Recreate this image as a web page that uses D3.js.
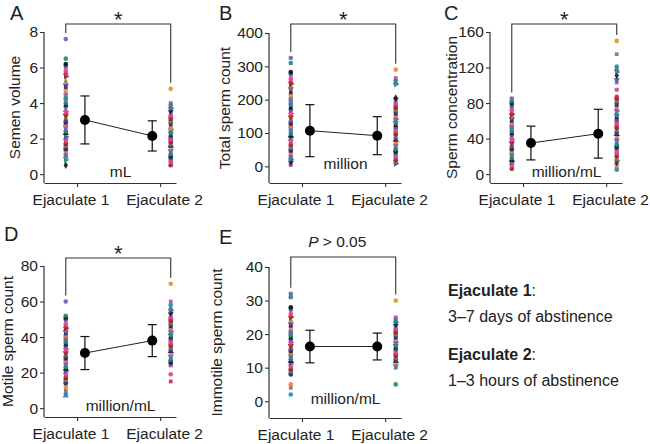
<!DOCTYPE html>
<html>
<head>
<meta charset="utf-8">
<script src="https://cdn.jsdelivr.net/npm/d3@7"></script>
<style>
  body { margin: 0; background: #fff; }
  text { font-family: "Liberation Sans", Arial, Helvetica, sans-serif; fill: #222; }
</style>
</head>
<body>
<div id="container"></div>
<script>
// categories and labels
const groups = ['Ejaculate 1', 'Ejaculate 2'];
const panelLetters = ['A', 'B', 'C', 'D', 'E'];
const yLabels = ['Semen volume', 'Total sperm count', 'Sperm concentration', 'Motile sperm count', 'Immotile sperm count'];
const units = ['mL', 'million', 'million/mL', 'million/mL', 'million/mL'];
const significance = ['*', '*', '*', '*', 'P > 0.05'];
const yTicks = [[0, 2, 4, 6, 8], [0, 100, 200, 300, 400], [0, 40, 80, 120, 160], [0, 20, 40, 60, 80], [0, 10, 20, 30, 40]];
const yDomains = [[-0.5, 8], [-50, 400], [-10, 160], [-5, 80], [-5, 40]];

// individual values
const volume1 = [7.6, 6.5, 6.2, 6.1, 6.0, 5.8, 5.7, 5.5, 5.2, 5.0, 4.9, 4.7, 4.5, 4.3, 4.2, 4.0, 3.9, 3.8, 3.6, 3.5, 3.4, 3.3, 3.2, 3.0, 2.9, 2.8, 2.7, 2.7, 2.5, 2.4, 2.3, 2.1, 2.0, 1.9, 1.8, 1.7, 1.6, 1.5, 1.4, 1.3, 1.2, 1.1, 1.0, 0.8, 0.5];
const volume2 = [4.8, 4.0, 3.9, 3.8, 3.7, 3.6, 3.5, 3.4, 3.3, 3.2, 3.1, 3.0, 2.9, 2.8, 2.6, 2.6, 2.5, 2.4, 2.3, 2.2, 2.1, 2.0, 2.0, 1.9, 1.8, 1.7, 1.6, 1.6, 1.5, 1.4, 1.3, 1.2, 1.1, 1.0, 0.9, 0.8, 0.7, 0.6, 0.5];
const totalCount1 = [325, 310, 283, 278, 272, 262, 255, 247, 238, 232, 222, 214, 205, 198, 190, 184, 176, 170, 163, 158, 152, 147, 140, 134, 128, 122, 117, 110, 104, 98, 92, 87, 81, 75, 70, 64, 58, 52, 47, 41, 36, 31, 26, 20, 15, 11, 7, 4];
const totalCount2 = [290, 265, 258, 252, 246, 205, 200, 194, 188, 182, 176, 170, 164, 158, 152, 147, 141, 136, 130, 124, 118, 113, 107, 101, 96, 90, 85, 79, 73, 68, 62, 57, 51, 45, 40, 34, 29, 23, 18, 13, 8];
const concentration1 = [85, 82, 80, 77, 74, 72, 69, 67, 65, 62, 60, 58, 55, 53, 51, 48, 46, 44, 41, 39, 37, 35, 33, 31, 28, 26, 24, 22, 20, 18, 16, 14, 12, 10, 8, 6];
const concentration2 = [150, 135, 121, 118, 115, 111, 106, 103, 95, 87, 85, 83, 80, 78, 76, 73, 71, 68, 66, 64, 61, 59, 57, 54, 52, 50, 47, 45, 43, 40, 38, 36, 33, 31, 29, 27, 24, 22, 20, 17, 15, 13, 10, 8, 5];
const motile1 = [60, 52, 51, 50, 48.5, 47, 46, 45, 44, 43, 42, 41, 40, 39, 38, 37, 36, 35, 34, 33, 32, 31, 30, 29, 28, 27, 26, 25, 24, 23, 22, 21, 20, 19, 18, 17, 16, 15, 14, 12, 10, 8, 7];
const motile2 = [70, 60, 58, 56, 55, 54, 53, 52, 51, 50, 49, 48, 47, 46, 45, 44, 43, 42, 41, 40, 39, 38, 37, 36, 35, 34, 33, 32, 31, 30, 29, 28, 27, 26, 25, 24, 19, 15];
const immotile1 = [32, 31, 28, 27.5, 27, 26, 25.5, 25, 24, 23, 22.5, 22, 21, 20.5, 20, 19.5, 19, 18.5, 18, 17.5, 17, 16.5, 16, 15.5, 15, 14.5, 14, 13.5, 13, 12.5, 12, 11.5, 11, 10.5, 10, 9.5, 9, 8.5, 8, 5, 4, 2];
const immotile2 = [30, 25, 24.5, 24, 23.5, 23, 22.5, 22, 21.5, 21, 20.5, 20, 19.5, 19, 18.5, 18, 17.5, 17, 16.5, 16, 15.5, 15, 14.5, 14, 13.5, 13, 12.5, 12, 11.5, 11, 10.5, 10, 5];

// group means and the error bar half-lengths
const means = [[3.05, 2.15], [107, 92], [35, 45.5], [31, 38], [16.3, 16.3]];
const sds = [[1.35, 0.85], [78, 57], [19, 27.5], [9.3, 9], [4.85, 4]];

const values = [
  [volume1, volume2],
  [totalCount1, totalCount2],
  [concentration1, concentration2],
  [motile1, motile2],
  [immotile1, immotile2]
];

// layout of each panel (pixels)
const layout = [
  { x: 44, top: 32, bottom: 183, letter: [10, 20], ylab: 15, bracket: 24 },
  { x: 269, top: 33, bottom: 183, letter: [219, 20], ylab: 225, bracket: 24 },
  { x: 490, top: 32, bottom: 183, letter: [444, 20], ylab: 452, bracket: 24 },
  { x: 44, top: 266, bottom: 417, letter: [4, 241], ylab: 8, bracket: 258 },
  { x: 269, top: 267, bottom: 418, letter: [219, 244], ylab: 217, bracket: 257 }
];
const plotWidth = 132;
const scatterPos = [0.165, 0.96];
const meanPos = [0.31, 0.82];
const tickPos = [0.25, 0.88];
const labelPos = [0.2, 0.91];

const palette = ['#6b5fb5', '#e0457b', '#1c1f6e', '#1d8a6b', '#c8283a', '#f08a24', '#111111',
  '#8a1c3c', '#9b59a8', '#2e5da8', '#8c8a3a', '#1f8f94', '#d64fa0', '#4b3b8f'];
const shapes = ['circle', 'circle', 'square', 'circle', 'diamond', 'circle', 'triangle', 'circle', 'square', 'down', 'circle', 'right'];

let svg = d3.select('#container').append('svg')
  .attr('width', 650)
  .attr('height', 444);

main();

function main() {
  layout.forEach((l, i) => drawPanel(i, l));
  drawLegend();
}

function marker(d, i, cx, cy) {
  const kind = shapes[(i * 5 + d.g * 3) % shapes.length];
  let type = d3.symbolCircle;
  let size = 17;
  let rot = 0;
  if (kind === 'square') { type = d3.symbolSquare; size = 14; }
  if (kind === 'diamond') { type = d3.symbolDiamond; size = 16; }
  if (kind === 'triangle') { type = d3.symbolTriangle; size = 17; }
  if (kind === 'down') { type = d3.symbolTriangle; size = 17; rot = 180; }
  if (kind === 'right') { type = d3.symbolTriangle; size = 17; rot = 90; }
  return {
    path: d3.symbol().type(type).size(size)(),
    transform: `translate(${cx},${cy}) rotate(${rot})`
  };
}

function drawPanel(p, l) {
  const g = svg.append('g').attr('class', 'panel');

  const x = d3.scaleLinear().domain([0, 1]).range([l.x, l.x + plotWidth]);
  const y = d3.scaleLinear().domain(yDomains[p]).range([l.bottom, l.top]);

  // y axis
  const yAxis = g.append('g')
    .attr('transform', `translate(${l.x},0)`)
    .call(d3.axisLeft(y).tickValues(yTicks[p]).tickSize(4).tickPadding(2).tickSizeOuter(0));
  yAxis.select('.domain').attr('stroke', '#333').attr('stroke-width', 1.2)
    .attr('d', `M0,${l.bottom}V${y(yTicks[p][yTicks[p].length - 1])}`);
  yAxis.selectAll('.tick line').attr('stroke', '#333').attr('stroke-width', 1.1);
  yAxis.selectAll('.tick text').style('font-size', '15.5px').attr('fill', '#222');

  // x axis
  const xAxis = g.append('g')
    .attr('transform', `translate(0,${l.bottom})`)
    .call(d3.axisBottom(x).tickValues(tickPos).tickSize(4).tickPadding(7).tickSizeOuter(0)
      .tickFormat((d, i) => groups[i]));
  xAxis.select('.domain').attr('stroke', '#333').attr('stroke-width', 1.2);
  xAxis.selectAll('.tick line').attr('stroke', '#333').attr('stroke-width', 1.1);
  xAxis.selectAll('.tick text')
    .style('font-size', '15.5px')
    .attr('fill', '#222')
    .attr('x', (d, i) => x(labelPos[i]) - x(tickPos[i]));

  // y label
  g.append('text')
    .attr('transform', `translate(${l.ylab},${(l.top + l.bottom) / 2}) rotate(-90)`)
    .attr('text-anchor', 'middle')
    .attr('dy', '0.35em')
    .style('font-size', '15.5px')
    .text(yLabels[p]);

  // panel letter
  g.append('text')
    .attr('x', l.letter[0])
    .attr('y', l.letter[1])
    .style('font-size', '20px')
    .text(panelLetters[p]);

  // individual points
  const pts = [];
  values[p].forEach((arr, gi) => arr.forEach((v, k) => pts.push({ g: gi, v: v, k: k })));
  g.append('g').selectAll('path')
    .data(pts.slice().reverse())
    .enter()
    .append('path')
    .each(function (d) {
      const m = marker(d, d.k, x(scatterPos[d.g]), y(d.v));
      d3.select(this)
        .attr('d', m.path)
        .attr('transform', m.transform)
        .attr('fill', palette[(d.k * 3 + d.g * 5) % palette.length])
        .attr('opacity', 0.9);
    });

  // mean line and error bars
  g.append('line')
    .attr('x1', x(meanPos[0])).attr('y1', y(means[p][0]))
    .attr('x2', x(meanPos[1])).attr('y2', y(means[p][1]))
    .attr('stroke', '#222').attr('stroke-width', 1);

  const bars = g.append('g').selectAll('g')
    .data([0, 1])
    .enter()
    .append('g');
  bars.append('line')
    .attr('x1', (d) => x(meanPos[d])).attr('x2', (d) => x(meanPos[d]))
    .attr('y1', (d) => y(means[p][d] - sds[p][d]))
    .attr('y2', (d) => y(means[p][d] + sds[p][d]))
    .attr('stroke', '#111').attr('stroke-width', 1.2);
  [-1, 1].forEach((s) => {
    bars.append('line')
      .attr('x1', (d) => x(meanPos[d]) - 4.5).attr('x2', (d) => x(meanPos[d]) + 4.5)
      .attr('y1', (d) => y(means[p][d] + s * sds[p][d]))
      .attr('y2', (d) => y(means[p][d] + s * sds[p][d]))
      .attr('stroke', '#111').attr('stroke-width', 1.2);
  });
  bars.append('circle')
    .attr('cx', (d) => x(meanPos[d]))
    .attr('cy', (d) => y(means[p][d]))
    .attr('r', 5)
    .attr('fill', '#000');

  // significance bracket
  const leg = [0, 1].map((gi) => y(d3.max(values[p][gi])) - 6);
  g.append('path')
    .attr('d', `M${x(scatterPos[0])},${leg[0]}V${l.bracket}H${x(scatterPos[1])}V${leg[1]}`)
    .attr('fill', 'none')
    .attr('stroke', '#333')
    .attr('stroke-width', 1.1);

  const mid = x((scatterPos[0] + scatterPos[1]) / 2);
  if (significance[p] === '*') {
    g.append('text')
      .attr('x', mid)
      .attr('y', l.bracket + 3)
      .attr('text-anchor', 'middle')
      .style('font-size', '22px')
      .text('*');
  } else {
    const t = g.append('text')
      .attr('x', mid - 6)
      .attr('y', l.bracket - 10)
      .attr('text-anchor', 'middle')
      .style('font-size', '15.5px');
    t.append('tspan').style('font-style', 'italic').text('P');
    t.append('tspan').text(significance[p].slice(1));
  }

  // unit
  g.append('text')
    .attr('x', x(0.58))
    .attr('y', y(0) + 3)
    .attr('text-anchor', 'middle')
    .style('font-size', '15.5px')
    .text(units[p]);
}

function drawLegend() {
  const legend = [
    { title: groups[0], text: '3\u20137 days of abstinence', y: 296 },
    { title: groups[1], text: '1\u20133 hours of abstinence', y: 360 }
  ];
  const lg = svg.append('g').attr('class', 'legend');
  legend.forEach((d) => {
    const t = lg.append('text')
      .attr('x', 448)
      .attr('y', d.y)
      .style('font-size', '16px');
    t.append('tspan').style('font-weight', 'bold').text(d.title);
    t.append('tspan').text(':');
    lg.append('text')
      .attr('x', 448)
      .attr('y', d.y + 25.5)
      .style('font-size', '16px')
      .text(d.text);
  });
}
</script>
</body>
</html>
